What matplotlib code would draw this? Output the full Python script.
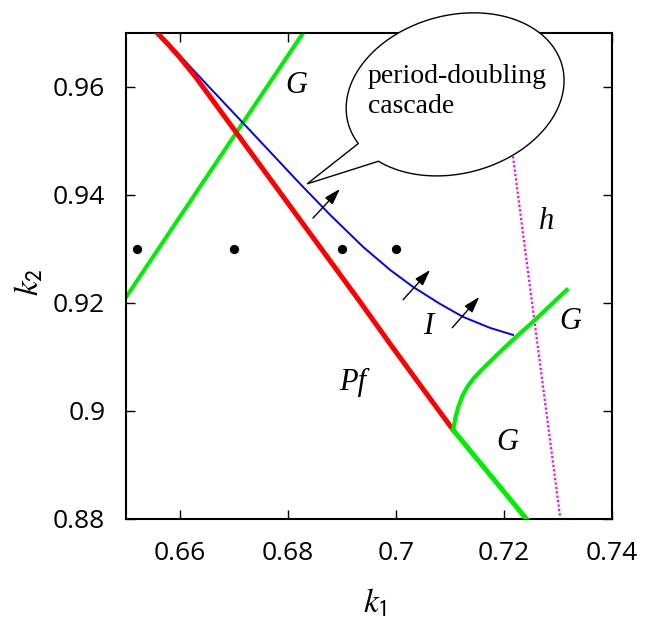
import numpy as np
import matplotlib
matplotlib.use("Agg")
import matplotlib.pyplot as plt
from matplotlib.patches import Polygon

# curves (k1, k2)
pf_k1 = [0.65574, 0.65778, 0.66000, 0.66278, 0.66556, 0.67111, 0.67667,
         0.68222, 0.68778, 0.69333, 0.69889, 0.70444, 0.71056]
pf_k2 = [0.97000, 0.96787, 0.96537, 0.96194, 0.95815, 0.95056, 0.94296,
         0.93537, 0.92778, 0.92019, 0.91241, 0.90481, 0.89648]

blue_k1 = [0.65593, 0.66000, 0.66500, 0.67111, 0.67667, 0.68222, 0.68778,
           0.69389, 0.69889, 0.70315, 0.70815, 0.71241, 0.71741, 0.72167]
blue_k2 = [0.97000, 0.96574, 0.96037, 0.95389, 0.94796, 0.94204, 0.93630,
           0.93037, 0.92611, 0.92296, 0.91981, 0.91741, 0.91537, 0.91407]

g_left_k1 = [0.6500, 0.68278]
g_left_k2 = [0.9211, 0.9700]

g_low_k1 = [0.71056, 0.72402]
g_low_k2 = [0.89648, 0.88013]

g_up_k1 = [0.71056, 0.71098, 0.71154, 0.71228, 0.71324, 0.71444, 0.71593,
           0.71772, 0.71963, 0.72172, 0.72543, 0.73161]
g_up_k2 = [0.89648, 0.89870, 0.90080, 0.90278, 0.90454, 0.90611, 0.90769,
           0.90944, 0.91130, 0.91324, 0.91657, 0.92241]

h_k1 = [0.7187, 0.7215, 0.7239, 0.7304]
h_k2 = [0.9700, 0.9483, 0.9298, 0.8802]

dots_k1 = [0.652, 0.670, 0.690, 0.700]
dots_k2 = [0.930, 0.930, 0.930, 0.930]

arrow_tails = [(0.6846, 0.9357), (0.7013, 0.9206), (0.7104, 0.9154)]
arrow_heads = [(0.6896, 0.9411), (0.7063, 0.9261), (0.7154, 0.9211)]

xticks = [0.66, 0.68, 0.70, 0.72, 0.74]
xticklabels = ["0.66", "0.68", "0.7", "0.72", "0.74"]
yticks = [0.88, 0.90, 0.92, 0.94, 0.96]
yticklabels = ["0.88", "0.9", "0.92", "0.94", "0.96"]

plt.rcParams["mathtext.fontset"] = "stix"

fig = plt.figure(figsize=(6.47, 6.20), dpi=100)
ax = fig.add_axes([0.195, 0.163, 0.751, 0.784])

ax.plot(g_left_k1, g_left_k2, color="#00ee00", lw=2.9, zorder=2)
ax.plot(blue_k1, blue_k2, color="#0000ff", lw=1.4, zorder=3)
ax.plot(pf_k1, pf_k2, color="#ff0000", lw=3.6, zorder=3)
ax.plot(g_low_k1, g_low_k2, color="#00ee00", lw=3.6, zorder=3)
ax.plot(g_up_k1, g_up_k2, color="#00ee00", lw=3.0, zorder=3)
ax.plot(h_k1, h_k2, color="#ff00ff", lw=1.6, ls=(0, (1, 1)), zorder=2)
ax.scatter(dots_k1, dots_k2, s=32, color="black", zorder=4)

for tail, head in zip(arrow_tails, arrow_heads):
    ax.annotate("", xy=head, xytext=tail,
                arrowprops=dict(arrowstyle="-|>,head_length=0.7,head_width=0.22",
                                color="black", lw=1.0,
                                mutation_scale=14, shrinkA=0, shrinkB=0))

# speech bubble (tilted ellipse with a tail)
cx, cy = 0.71093, 0.95861
a, b, rot = 0.02052, 0.01463, np.deg2rad(15)
tip = (0.68352, 0.94204)
t = np.deg2rad(np.linspace(214.5, 556.5, 240))
ex = a * np.cos(t)
ey = b * np.sin(t)
px = cx + ex * np.cos(rot) - ey * np.sin(rot)
py = cy + ex * np.sin(rot) + ey * np.cos(rot)
verts = np.column_stack([np.append(px, tip[0]), np.append(py, tip[1])])
bubble = Polygon(verts, closed=True, facecolor="white", edgecolor="black",
                 lw=1.0, clip_on=False, zorder=5)
ax.add_patch(bubble)
bub = dict(family="Liberation Serif", fontsize=20, ha="left", va="baseline", zorder=6)
ax.text(0.69481, 0.96074, "period-doubling", **bub)
ax.text(0.69481, 0.95519, "cascade", **bub)

lbl = dict(family="Liberation Serif", style="italic", fontsize=22, ha="center", va="center")
ax.text(0.6816, 0.9603, "G", **lbl)
ax.text(0.7278, 0.9350, "h", **lbl)
ax.text(0.7322, 0.9165, "G", **lbl)
ax.text(0.7059, 0.9156, "I", **lbl)
ax.text(0.6919, 0.9052, "Pf", **lbl)
ax.text(0.7206, 0.8942, "G", **lbl)

ax.set_xlim(0.65, 0.74)
ax.set_ylim(0.88, 0.97)
ax.set_xticks(xticks)
ax.set_xticklabels(xticklabels, family="Open Sans")
ax.set_yticks(yticks)
ax.set_yticklabels(yticklabels, family="Open Sans")
ax.tick_params(direction="in", length=6.5, width=1.0, top=True, right=True,
               labelsize=19)
ax.tick_params(axis="x", pad=16)
ax.tick_params(axis="y", pad=15)
for sp in ax.spines.values():
    sp.set_linewidth(1.5)
ax.set_xlabel(r"$k_{\mathsf{1}}$", fontsize=24)
ax.set_ylabel(r"$k_{\mathsf{2}}$", fontsize=24)
ax.xaxis.set_label_coords(0.512, -0.140)
ax.yaxis.set_label_coords(-0.165, 0.488)

fig.savefig("out.png", dpi=100)
